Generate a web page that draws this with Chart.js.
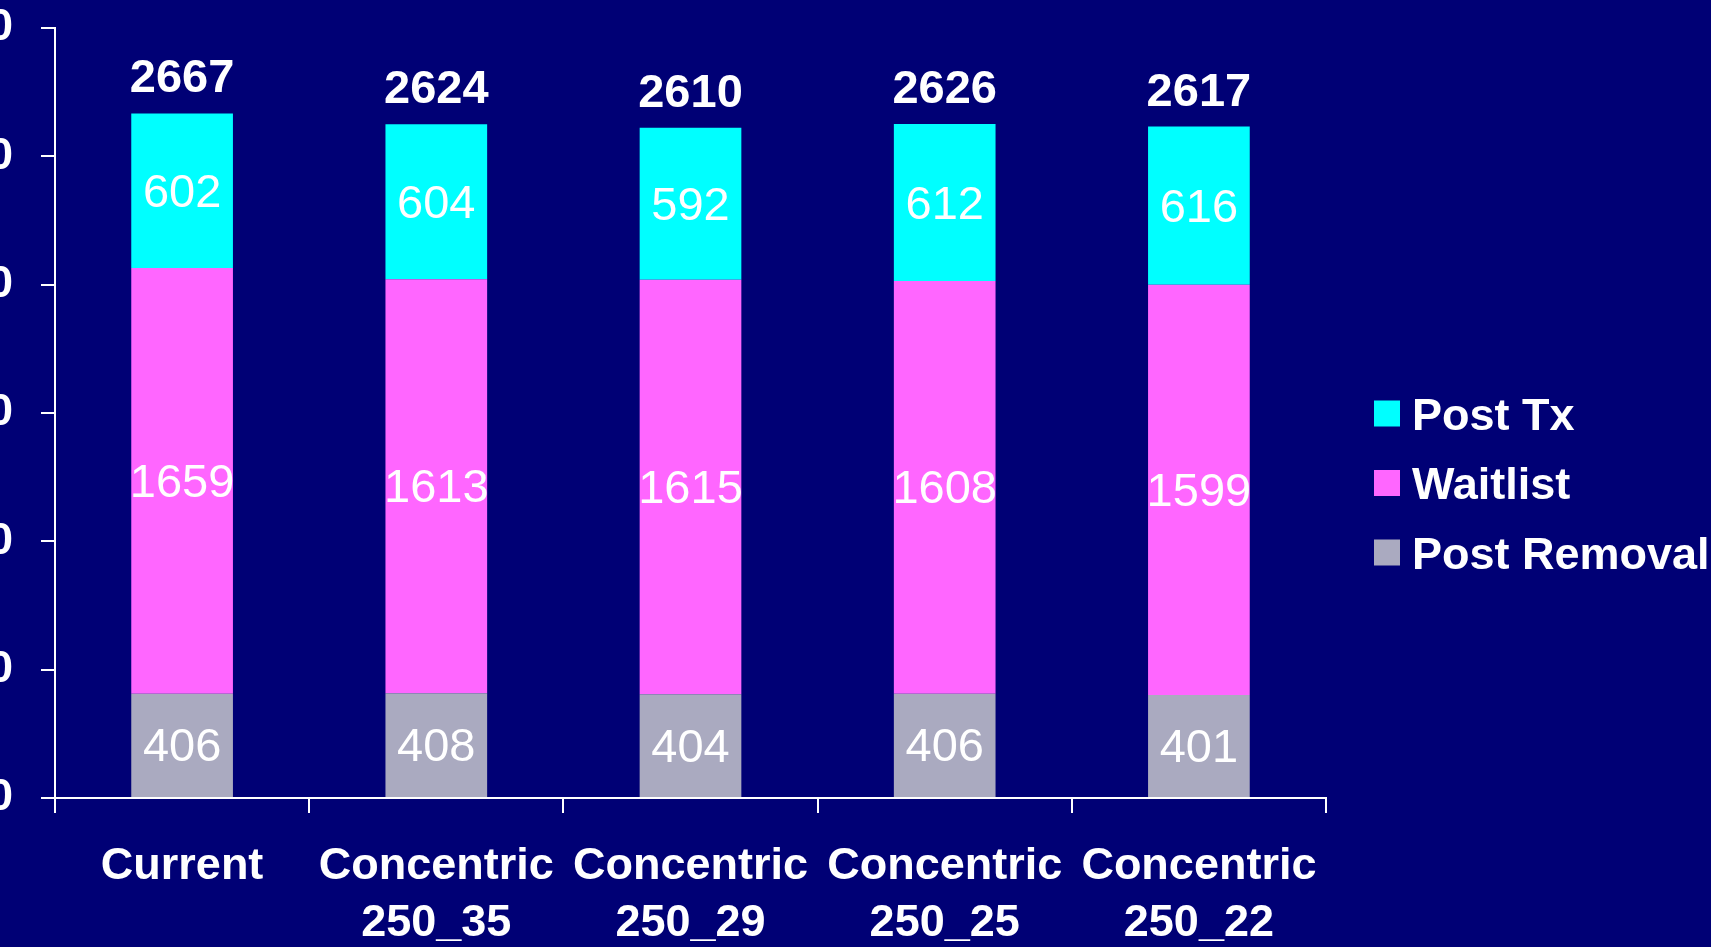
<!DOCTYPE html>
<html>
<head>
<meta charset="utf-8">
<title>Post Tx / Waitlist / Post Removal</title>
<script src="https://cdn.jsdelivr.net/npm/chart.js@4/dist/chart.umd.min.js"></script>
<style>
  html, body { margin: 0; padding: 0; background: #000075; overflow: hidden; }
  #wrap { position: relative; width: 1711px; height: 947px; overflow: hidden; }
  /* canvas is pushed left so the y labels run off the edge */
  #chart { position: absolute; left: -150px; top: 0; }
</style>
</head>
<body>
<div id="wrap"><canvas id="chart" width="1861" height="947"></canvas></div>
<script>
const categories = [
  'Current',
  ['Concentric', '250_35'],
  ['Concentric', '250_29'],
  ['Concentric', '250_25'],
  ['Concentric', '250_22']
];
const postRemoval = [406, 408, 404, 406, 401];
const waitlist = [1659, 1613, 1615, 1608, 1599];
const postTx = [602, 604, 592, 612, 616];
const totals = [2667, 2624, 2610, 2626, 2617];
const yMin = 0;
const yMax = 3000;
const yStep = 500;

const FONT = '"Liberation Sans", Arial, sans-serif';
const SHIFT = 150;

// numbers inside each segment plus the total above each stack
const barLabels = {
  id: 'barLabels',
  afterDatasetsDraw(chart) {
    const ctx = chart.ctx;
    ctx.save();
    ctx.fillStyle = '#fff';
    ctx.textAlign = 'center';
    ctx.textBaseline = 'alphabetic';
    ctx.font = `47px ${FONT}`;
    chart.data.datasets.forEach((ds, i) => {
      chart.getDatasetMeta(i).data.forEach((bar, j) => {
        const mid = (bar.y + bar.base) / 2;
        ctx.fillText(String(ds.data[j]), bar.x, mid + 16);
      });
    });
    const topBars = chart.getDatasetMeta(chart.data.datasets.length - 1).data;
    ctx.font = `bold 47px ${FONT}`;
    topBars.forEach((bar, j) => ctx.fillText(String(totals[j]), bar.x, bar.y - 21));
    ctx.restore();
  }
};

// legend to the right, top series first
const sideLegend = {
  id: 'sideLegend',
  afterDraw(chart) {
    const ctx = chart.ctx;
    const boxX = chart.chartArea.right + 48;
    const sets = chart.data.datasets.slice().reverse();
    ctx.save();
    ctx.font = `bold 45px ${FONT}`;
    ctx.textAlign = 'left';
    ctx.textBaseline = 'alphabetic';
    sets.forEach((ds, k) => {
      const cy = 413.5 + k * 69.5;
      ctx.fillStyle = ds.backgroundColor;
      ctx.fillRect(boxX, cy - 13, 26, 26);
      ctx.fillStyle = '#fff';
      ctx.fillText(ds.label, boxX + 38, cy + 16);
    });
    ctx.restore();
  }
};

new Chart(document.getElementById('chart'), {
  type: 'bar',
  data: {
    labels: categories,
    datasets: [
      { label: 'Post Removal', data: postRemoval, backgroundColor: '#AAAAC0' },
      { label: 'Waitlist', data: waitlist, backgroundColor: '#FF66FF' },
      { label: 'Post Tx', data: postTx, backgroundColor: '#00FFFF' }
    ]
  },
  options: {
    responsive: false,
    animation: false,
    layout: { padding: { top: 28, right: 385, bottom: 0, left: 0 } },
    datasets: { bar: { categoryPercentage: 1, barPercentage: 0.4, borderWidth: 0 } },
    plugins: { legend: { display: false }, tooltip: { enabled: false } },
    scales: {
      x: {
        stacked: true,
        afterFit: s => { s.height = 149; },
        grid: { offset: true, drawOnChartArea: false, color: '#fff', lineWidth: 2, tickLength: 15 },
        border: { color: '#fff', width: 2 },
        ticks: {
          color: '#fff',
          padding: 25,
          maxRotation: 0,
          autoSkip: false,
          font: { family: FONT, size: 45, weight: 'bold', lineHeight: '57px' }
        }
      },
      y: {
        stacked: true,
        min: yMin,
        max: yMax,
        afterFit: s => { s.width = SHIFT + 55; s.paddingTop = 0; s.paddingBottom = 0; },
        grid: { drawOnChartArea: false, color: '#fff', lineWidth: 2, tickLength: 14 },
        border: { color: '#fff', width: 2 },
        ticks: {
          stepSize: yStep,
          color: '#fff',
          padding: 28,
          font: { family: FONT, size: 45, weight: 'bold', lineHeight: '20px' }
        }
      }
    }
  },
  plugins: [barLabels, sideLegend]
});
</script>
</body>
</html>
